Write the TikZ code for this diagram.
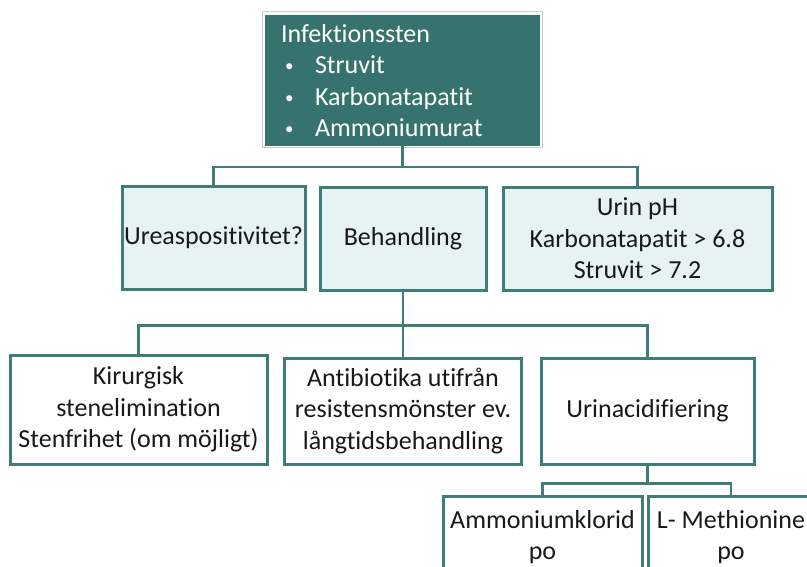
\documentclass[tikz,border=0pt]{standalone}
\usepackage{fontspec}
\setmainfont{Carlito}[Ligatures=NoCommon]
\usetikzlibrary{positioning, calc}
\definecolor{stoneteal}{RGB}{55,115,110}
\definecolor{lineteal}{RGB}{62,125,120}
\definecolor{paleteal}{RGB}{231,242,242}
\definecolor{framegray}{RGB}{205,205,205}
\definecolor{inkgray}{RGB}{25,25,25}
\newcommand{\stonebullet}{\hspace*{4pt}\makebox[30pt][l]{\raisebox{2pt}{\fontsize{17}{17}\selectfont\textbullet}}}

\begin{document}
\begin{tikzpicture}[
  x=1pt, y=-1pt,
  font=\fontsize{26}{31.5}\selectfont,
  headbox/.style={fill=stoneteal, text=white, align=left, minimum width=275pt, minimum height=131pt, text width=243pt, inner xsep=16pt},
  groupbox/.style={draw=lineteal, fill=paleteal, line width=3pt, align=center, text=inkgray, minimum height=103pt, inner sep=2pt},
  leafbox/.style={draw=lineteal, fill=white, line width=3pt, align=center, text=inkgray, inner sep=2pt},
  link/.style={draw=lineteal, line width=2.2pt},
]
\path[use as bounding box] (0,0) rectangle (807,566);
\clip (0,0) rectangle (807,566);

% top level
\node[headbox] (top) at (402.5,80.5) {Infektionssten\\
  \stonebullet Struvit\\
  \stonebullet Karbonatapatit\\
  \stonebullet Ammoniumurat};
\draw[framegray, line width=0.8pt] ([xshift=-2.5pt,yshift=3.5pt]top.north west) rectangle ([xshift=2.5pt,yshift=-1.5pt]top.south east);

% second row
\node[groupbox, minimum width=183pt] (urea) at (213.5,237.5) {Ureaspositivitet?};
\node[groupbox, minimum width=166pt] (beh) at (403,238.5) {Behandling};
\node[groupbox, minimum width=269pt] (urin) at (637.5,238.5) {Urin pH\\Karbonatapatit > 6.8\\Struvit > 7.2};

\coordinate (busA) at ([yshift=-21pt]top.south);
\draw[link] (top.south) -- (busA) -| (urea.north);
\draw[link] (busA) -| (urin.north);

% treatment options
\node[leafbox, minimum width=257pt, minimum height=109pt] (kir) at (138.5,409.5) {Kirurgisk\\stenelimination\\Stenfrihet (om möjligt)};
\node[leafbox, minimum width=237pt, minimum height=106pt] (anti) at (403,411) {Antibiotika utifrån\\resistensmönster ev.\\långtidsbehandling};
\node[leafbox, minimum width=213pt, minimum height=106pt] (uri) at (647.5,411) {Urinacidifiering};

\coordinate (busB) at ([yshift=-34pt]beh.south);
\draw[link] (beh.south) -- (busB) -| (kir.north);
\draw[link] (busB) -| (uri.north);
\draw[link] (busB) -- (anti.north);

% acidifying agents
\node[leafbox, minimum width=199pt, minimum height=82pt] (amm) at (542.5,537) {Ammoniumklorid\\po};
\node[leafbox, minimum width=166pt, minimum height=82pt] (meth) at (731,537) {L- Methionine\\po};

\coordinate (busC) at ([yshift=-18pt]uri.south);
\draw[link] (uri.south) -- (busC) -| (amm.north);
\draw[link] (busC) -| (meth.north);
\end{tikzpicture}
\end{document}
